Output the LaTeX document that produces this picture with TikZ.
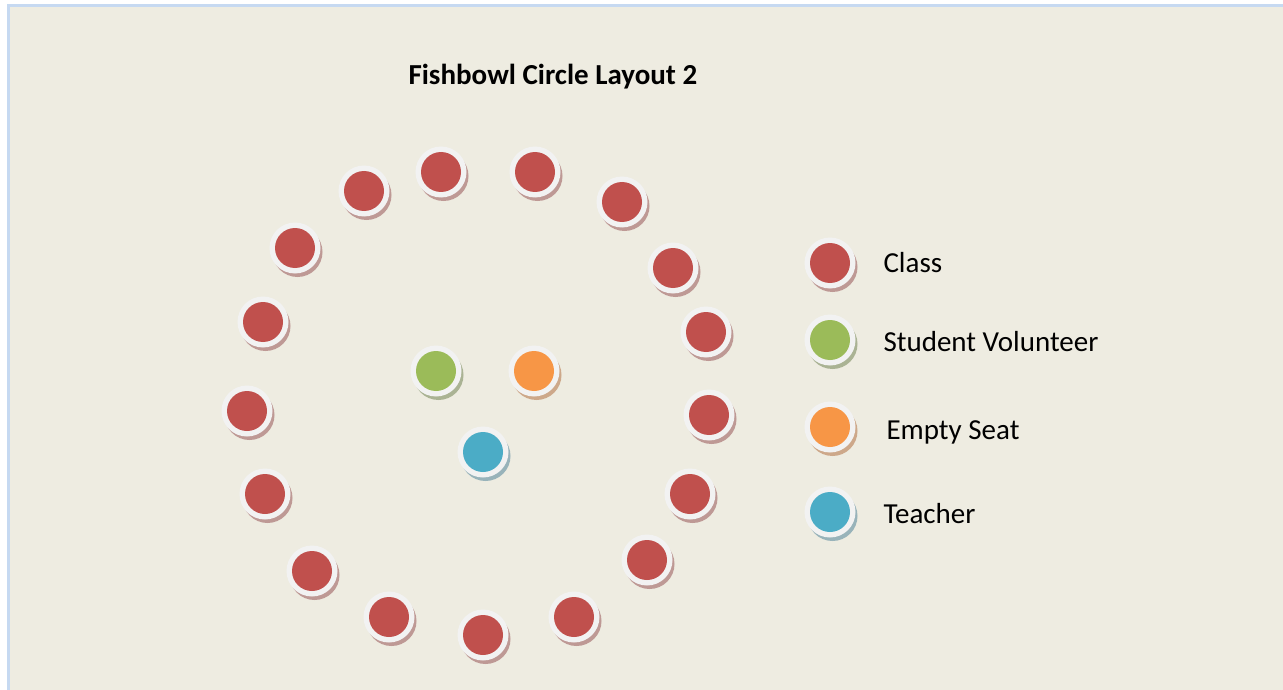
\documentclass[tikz,border=0pt]{standalone}
\usepackage{fontspec}
\setmainfont{Carlito}

\definecolor{bgcol}{HTML}{EEECE1}
\definecolor{framecol}{HTML}{C6D9F1}
\definecolor{ringcol}{HTML}{F2F2F2}
\definecolor{classcol}{HTML}{C0504D}
\definecolor{volcol}{HTML}{9BBB59}
\definecolor{emptycol}{HTML}{F79646}
\definecolor{teachcol}{HTML}{4BACC6}
\definecolor{classsh}{HTML}{BE9995}
\definecolor{volsh}{HTML}{AAB394}
\definecolor{emptysh}{HTML}{CDA88A}
\definecolor{teachsh}{HTML}{98B3BA}

\tikzset{
	ring/.style={circle, fill=ringcol, minimum size=51pt, inner sep=0pt},
	dot/.style={circle, fill=#1, minimum size=40pt, inner sep=0pt},
	seatshadow/.style={fill=#1},
	legendtext/.style={anchor=west, font=\fontsize{29}{34}\selectfont},
}

% one seat: name, x, y, colour, shadow colour
\newcommand{\seatat}[5]{
	\fill[seatshadow=#5] (#2+2.5,#3+4) circle (25);
	\node[ring] (#1) at (#2,#3) {};
	\node[dot=#4] (#1d) at (#1) {};
}

\begin{document}
\begin{tikzpicture}[x=1pt,y=-1pt]
				\useasboundingbox (0,0) rectangle (1283,690);
				\fill[white] (0,0) rectangle (1283,690);
				\fill[framecol] (7,4) rectangle (1283,690);
				\fill[bgcol] (10,7) rectangle (1283,690);

				\node[anchor=west, font=\bfseries\fontsize{29}{34}\selectfont] (title) at (405,77) {Fishbowl Circle Layout 2};

				% outer circle of the class
				\foreach \x/\y [count=\i] in {441/172, 535/172, 364/191, 622/202, 295/248, 673/268,
					263/322, 706/332, 247/411, 709/415, 265/494, 690/494, 312/571, 647/560,
					389/617, 574/617, 483/635}
					{\seatat{c\i}{\x}{\y}{classcol}{classsh}}

				% inner seats
				\seatat{vol}{436}{371}{volcol}{volsh}
				\seatat{empty}{534}{371}{emptycol}{emptysh}
				\seatat{teach}{483}{452}{teachcol}{teachsh}

				% legend
				\seatat{lclass}{830}{263}{classcol}{classsh}
				\seatat{lvol}{830}{340}{volcol}{volsh}
				\seatat{lempty}{830}{427}{emptycol}{emptysh}
				\seatat{lteach}{830}{512}{teachcol}{teachsh}

				\node[legendtext] (tclass) at (880,263) {Class};
				\node[legendtext] (tvol) at (880,342) {Student Volunteer};
				\node[legendtext] (tempty) at (883,432) {Empty Seat};
				\node[legendtext] (tteach) at (880,514) {Teacher};

			\end{tikzpicture}
\end{document}
